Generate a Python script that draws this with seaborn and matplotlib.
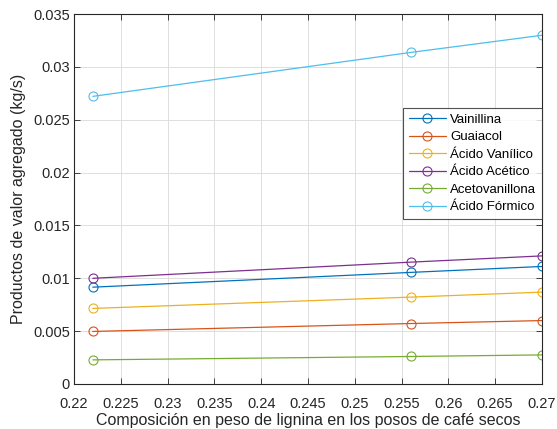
import numpy as np
import pandas as pd
import seaborn as sns
import matplotlib
matplotlib.use('Agg')
from matplotlib import pyplot as plt

# composicion de lignina (x) y productos (kg/s)
x_lig = [0.222, 0.256, 0.27]
nombres = ['Vainillina', 'Guaiacol', 'Ácido Vanílico', 'Ácido Acético',
           'Acetovanillona', 'Ácido Fórmico']
vainillina = [0.00916, 0.01056, 0.01112]
guaiacol = [0.00497, 0.00572, 0.00600]
ac_vanilico = [0.00715, 0.00822, 0.00869]
ac_acetico = [0.01000, 0.01153, 0.01212]
acetovanillona = [0.00228, 0.00260, 0.00275]
ac_formico = [0.02722, 0.03138, 0.03300]
series = [vainillina, guaiacol, ac_vanilico, ac_acetico, acetovanillona, ac_formico]

colores = [(0, 0.447, 0.741), (0.85, 0.325, 0.098), (0.929, 0.694, 0.125),
           (0.494, 0.184, 0.556), (0.466, 0.674, 0.188), (0.301, 0.745, 0.933)]

sns.set_style('ticks')
plt.rcParams['font.family'] = ['Liberation Sans', 'DejaVu Sans']
gris = '#262626'

fig = plt.figure(figsize=(5.57, 4.29), dpi=100)
ax = fig.add_axes([0.133, 0.105, 0.840, 0.862])

for nom, vals, c in zip(nombres, series, colores):
    sns.lineplot(x=x_lig, y=vals, ax=ax, color=c, label=nom, lw=0.9,
                 marker='o', markersize=6.5, mfc='none', mec=c, mew=0.8)

ax.set_xlim(0.22, 0.27)
ax.set_ylim(0, 0.035)
ax.set_xticks(np.arange(0.22, 0.2701, 0.005))
ax.set_yticks(np.arange(0, 0.0351, 0.005))
ax.set_xticklabels(['0.22', '0.225', '0.23', '0.235', '0.24', '0.245', '0.25',
                    '0.255', '0.26', '0.265', '0.27'])
ax.set_yticklabels(['0', '0.005', '0.01', '0.015', '0.02', '0.025', '0.03', '0.035'])
ax.grid(True, color='#dedede', lw=0.7)
ax.set_axisbelow(True)
for s in ax.spines.values():
    s.set_visible(True)
    s.set_color(gris)
    s.set_linewidth(0.8)
ax.tick_params(direction='in', top=True, right=True, length=4, width=0.6,
               colors=gris, labelsize=10.5, pad=3)
ax.tick_params(axis='x', pad=9.5)
ax.set_xlabel('Composición en peso de lignina en los posos de café secos',
              fontsize=11.5, color=gris, labelpad=1)
ax.set_ylabel('Productos de valor agregado (kg/s)', fontsize=11.5, color=gris, labelpad=5)

leg = ax.legend(loc='upper right', bbox_to_anchor=(1.0, 0.746), borderaxespad=0,
                fontsize=9.5, frameon=True, fancybox=False, handlelength=2.8,
                labelspacing=0.40, handletextpad=0.35, borderpad=0.42)
leg.get_frame().set_edgecolor(gris)
leg.get_frame().set_linewidth(0.8)
for t in leg.get_texts():
    t.set_color('#000000')

plt.savefig('out.png', dpi=100)
